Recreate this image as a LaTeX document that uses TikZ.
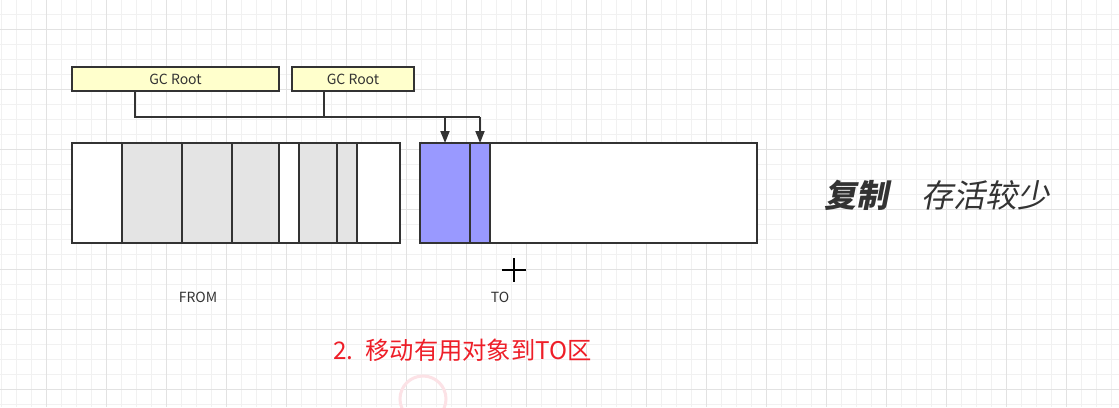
\documentclass[tikz,border=0pt]{standalone}
\usepackage{fontspec}
\setmainfont{Noto Sans CJK SC}
\newfontfamily\slantfont[FakeSlant=0.2]{Noto Sans CJK SC}
\usetikzlibrary{arrows.meta}
\definecolor{inkc}{RGB}{51,51,51}
\definecolor{gridminor}{RGB}{241,241,241}
\definecolor{gridmajor}{RGB}{226,226,226}
\definecolor{rootfill}{RGB}{255,255,204}
\definecolor{livefill}{RGB}{228,228,228}
\definecolor{copyfill}{RGB}{153,153,255}
\definecolor{redtext}{RGB}{238,30,40}
\definecolor{ringc}{RGB}{252,226,230}
\tikzset{
  minorline/.style={draw=gridminor, line width=1pt},
  majorline/.style={draw=gridmajor, line width=1pt},
  rootbox/.style={draw=inkc, line width=1.8pt, fill=rootfill, inner sep=0pt, outer sep=0pt,
    minimum height=24pt, text=inkc, font=\fontsize{14}{16}\selectfont},
  cellbox/.style={draw=inkc, line width=1.8pt, inner sep=0pt, outer sep=0pt,
    minimum height=100pt, anchor=north west},
  wire/.style={draw=inkc, line width=1.8pt},
  arrowwire/.style={wire, -{Triangle[length=12pt,width=9pt]}},
  label/.style={text=inkc, font=\fontsize{14}{16}\selectfont, inner sep=0pt}
}
\begin{document}
\begin{tikzpicture}[x=1pt,y=-1pt]
\fill[white] (0,0) rectangle (1119,407);
\useasboundingbox (0,0) rectangle (1119,407);
% background grid
\foreach \k in {0,...,74} {\draw[minorline] ({1.7+15*\k},0) -- ({1.7+15*\k},407);}
\foreach \k in {0,...,27} {\draw[minorline] (0,{-0.7+15*\k}) -- (1119,{-0.7+15*\k});}
\foreach \k in {0,...,17} {\draw[majorline] ({46.7+60*\k},0) -- ({46.7+60*\k},407);}
\foreach \k in {0,...,6} {\draw[majorline] (0,{29.3+60*\k}) -- (1119,{29.3+60*\k});}

% GC roots
\node[rootbox, minimum width=207pt] (gc1) at (175.5,79) {GC Root};
\node[rootbox, minimum width=122pt] (gc2) at (353,79) {GC Root};

% FROM space cells
\node[cellbox, minimum width=50pt, fill=white]    (f1) at (72,143) {};
\node[cellbox, minimum width=60pt, fill=livefill] (f2) at (122,143) {};
\node[cellbox, minimum width=50pt, fill=livefill] (f3) at (182,143) {};
\node[cellbox, minimum width=47pt, fill=livefill] (f4) at (232,143) {};
\node[cellbox, minimum width=20pt, fill=white]    (f5) at (279,143) {};
\node[cellbox, minimum width=38pt, fill=livefill] (f6) at (299,143) {};
\node[cellbox, minimum width=20pt, fill=livefill] (f7) at (337,143) {};
\node[cellbox, minimum width=43pt, fill=white]    (f8) at (357,143) {};

% TO space cells
\node[cellbox, minimum width=50pt, fill=copyfill]  (b1) at (420,143) {};
\node[cellbox, minimum width=20pt, fill=copyfill]  (b2) at (470,143) {};
\node[cellbox, minimum width=267pt, fill=white]    (b3) at (490,143) {};

% connectors
\coordinate (p1) at (135,0);
\coordinate (p2) at (324,0);
\coordinate (bus) at (0,117);
\draw[wire] (gc1.south -| p1) |- (bus -| b2.north);
\draw[wire] (gc2.south -| p2) -- (bus -| p2);
\draw[arrowwire] (bus -| b1.north) -- (b1.north);
\draw[arrowwire] (bus -| b2.north) -- (b2.north);

% labels
\node[label] (fromlbl) at (198,297) {FROM};
\node[label] (tolbl) at (500,297) {TO};

% cursor
\draw[black, line width=1.6pt] (502,270) -- (526,270) (514,258) -- (514,282);

% caption
\node[anchor=west, inner sep=0pt, text=redtext, font=\fontsize{24.3}{28}\selectfont] (step2) at (333,350)
  {2.\hspace{12pt}移动有用对象到TO区};

% faint ring
\draw[ringc, line width=3pt] (423,399) circle (23);

% title
\node[anchor=west, inner sep=0pt, text=inkc, font=\fontsize{32}{36}\selectfont] (title) at (824,195)
  {{\slantfont\bfseries 复制}\hspace{33pt}{\slantfont 存活较少}};
\end{tikzpicture}
\end{document}
